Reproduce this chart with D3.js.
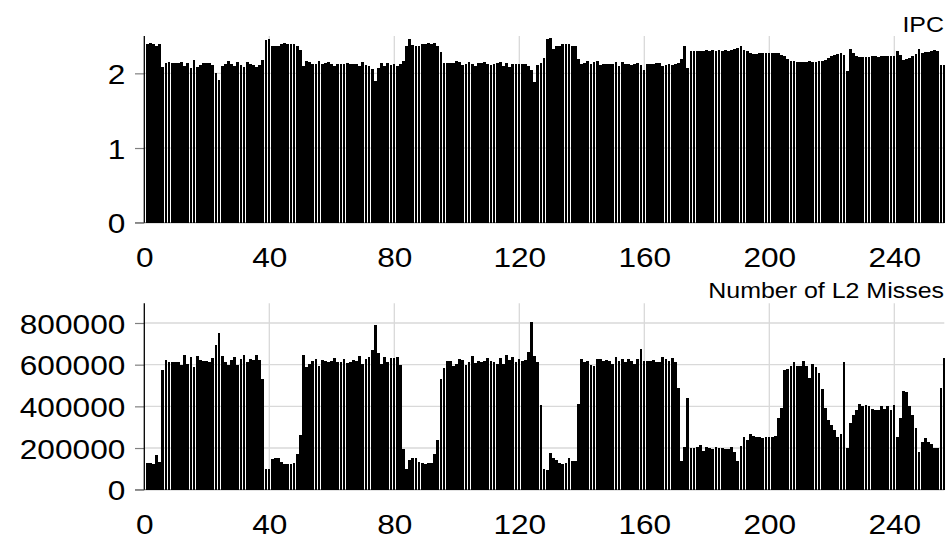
<!DOCTYPE html>
<html>
<head>
<meta charset="utf-8">
<script src="https://cdn.jsdelivr.net/npm/d3@7"></script>
<style>
  html, body { margin: 0; padding: 0; background: #fff; }
  svg { display: block; }
  text { font-family: "Liberation Sans", Arial, Helvetica, sans-serif; fill: #000; }
</style>
</head>
<body>
<svg id="chart" width="950" height="540"></svg>
<script>
// ---------- data ----------
const xTicks = [0, 40, 80, 120, 160, 200, 240];
const ipcTicks = [0, 1, 2];
const l2Ticks = [0, 200000, 400000, 600000, 800000];
const ipcTitle = "IPC";
const l2Title = "Number of L2 Misses";

const ipc = [
  2.39, 2.40, 2.39, 2.36, 2.39,
  2.09, 2.14, 2.15, 2.14, 2.14,
  2.14, 2.15, 2.10, 2.14, 2.07,
  2.18, 2.09, 2.11, 2.14, 2.14,
  2.14, 2.11, 2.00, 1.91, 2.10,
  2.125, 2.165, 2.125, 2.10, 2.15,
  2.11, 2.09, 2.15, 2.125, 2.11,
  2.09, 2.11, 2.18, 2.446, 2.455,
  2.37, 2.36, 2.36, 2.39, 2.40,
  2.39, 2.39, 2.39, 2.36, 2.31,
  2.10, 2.165, 2.15, 2.125, 2.125,
  2.165, 2.125, 2.14, 2.15, 2.125,
  2.10, 2.125, 2.125, 2.125, 2.14,
  2.125, 2.125, 2.125, 2.10, 2.15,
  2.11, 2.10, 2.06, 1.90, 2.07,
  2.14, 2.10, 2.14, 2.11, 2.125,
  2.10, 2.125, 2.165, 2.36, 2.455,
  2.38, 2.36, 2.36, 2.39, 2.39,
  2.40, 2.39, 2.40, 2.36, 2.29,
  2.14, 2.14, 2.14, 2.14, 2.165,
  2.15, 2.11, 2.125, 2.15, 2.125,
  2.10, 2.14, 2.14, 2.15, 2.125,
  2.11, 2.125, 2.14, 2.15, 2.10,
  2.14, 2.09, 2.125, 2.125, 2.125,
  2.125, 2.125, 2.10, 2.045, 1.885,
  2.11, 2.14, 2.205, 2.46, 2.47,
  2.325, 2.36, 2.37, 2.39, 2.39,
  2.39, 2.36, 2.36, 2.19, 2.125,
  2.14, 2.165, 2.125, 2.15, 2.165,
  2.11, 2.125, 2.125, 2.125, 2.125,
  2.15, 2.10, 2.15, 2.125, 2.125,
  2.11, 2.125, 2.14, 2.11, 2.045,
  2.125, 2.125, 2.125, 2.14, 2.14,
  2.10, 2.11, 2.125, 2.11, 2.125,
  2.14, 2.19, 2.365, 2.07, 2.30,
  2.30, 2.30, 2.30, 2.30, 2.31,
  2.30, 2.31, 2.30, 2.31, 2.30,
  2.31, 2.30, 2.31, 2.325, 2.34,
  2.365, 2.31, 2.30, 2.27, 2.26,
  2.26, 2.27, 2.27, 2.27, 2.27,
  2.27, 2.27, 2.27, 2.245, 2.23,
  2.19, 2.165, 2.165, 2.15, 2.15,
  2.15, 2.15, 2.165, 2.15, 2.15,
  2.165, 2.165, 2.18, 2.205, 2.23,
  2.245, 2.26, 2.27, 2.245, 2.03,
  2.325, 2.27, 2.23, 2.22, 2.22,
  2.22, 2.22, 2.23, 2.23, 2.22,
  2.23, 2.23, 2.23, 2.23, 2.23,
  2.30, 2.245, 2.18, 2.19, 2.205,
  2.23, 2.26, 2.325, 2.27, 2.285,
  2.285, 2.30, 2.31, 2.30, 2.11,
  2.11
];

const l2 = [
  127000, 127000, 122000, 165000, 132000,
  575000, 623000, 613000, 613000, 613000,
  613000, 599000, 647000, 604000, 638000,
  589000, 642000, 623000, 618000, 618000,
  613000, 633000, 695000, 753000, 642000,
  613000, 599000, 623000, 638000, 599000,
  628000, 647000, 613000, 628000, 623000,
  647000, 623000, 532000, 98000, 98000,
  146000, 151000, 151000, 132000, 122000,
  122000, 122000, 127000, 170000, 262000,
  647000, 589000, 604000, 618000, 628000,
  594000, 623000, 618000, 613000, 618000,
  633000, 613000, 613000, 628000, 609000,
  613000, 623000, 618000, 642000, 604000,
  628000, 638000, 671000, 792000, 657000,
  604000, 638000, 613000, 633000, 633000,
  638000, 599000, 194000, 98000, 141000,
  151000, 151000, 132000, 127000, 122000,
  127000, 127000, 170000, 238000, 532000,
  585000, 618000, 618000, 594000, 604000,
  628000, 623000, 599000, 613000, 642000,
  609000, 618000, 613000, 618000, 633000,
  618000, 613000, 604000, 633000, 604000,
  647000, 623000, 638000, 613000, 628000,
  618000, 623000, 662000, 806000, 642000,
  613000, 406000, 98000, 93000, 175000,
  151000, 141000, 127000, 122000, 127000,
  151000, 137000, 137000, 410000, 628000,
  613000, 618000, 599000, 594000, 625000,
  628000, 618000, 623000, 618000, 604000,
  638000, 618000, 628000, 613000, 628000,
  618000, 604000, 628000, 676000, 618000,
  618000, 618000, 623000, 613000, 613000,
  638000, 628000, 618000, 633000, 613000,
  488000, 137000, 204000, 440000, 199000,
  199000, 204000, 214000, 185000, 204000,
  199000, 194000, 204000, 199000, 199000,
  194000, 194000, 204000, 180000, 137000,
  209000, 252000, 238000, 267000, 257000,
  252000, 252000, 247000, 252000, 252000,
  252000, 257000, 344000, 392000, 575000,
  580000, 594000, 613000, 594000, 594000,
  618000, 594000, 536000, 604000, 589000,
  560000, 483000, 392000, 334000, 310000,
  286000, 252000, 267000, 613000, 199000,
  320000, 358000, 382000, 411000, 401000,
  406000, 401000, 387000, 382000, 382000,
  401000, 387000, 401000, 382000, 406000,
  252000, 344000, 474000, 469000, 401000,
  358000, 296000, 180000, 228000, 247000,
  228000, 218000, 199000, 199000, 488000,
  633000
];

// ---------- layout ----------
const svg = d3.select("#chart");
const xLeft = 144.3, xRight = 944.3;
const x = d3.scaleLinear().domain([0, ipc.length]).range([xLeft, xRight]);
const stretch = 1.11;

function panel(values, yDomainMax, yTop, yBottom, ticks, title, titleY) {
  const y = d3.scaleLinear().domain([0, yDomainMax]).range([yBottom, yTop]);
  const g = svg.append("g");

  // horizontal gridlines
  g.selectAll("line.hgrid").data(ticks.filter(t => t !== 0)).join("line")
    .attr("x1", xLeft).attr("x2", xRight)
    .attr("y1", d => y(d)).attr("y2", d => y(d))
    .attr("stroke", "#d9d9d9").attr("stroke-width", 1.3);
  // vertical gridlines
  g.selectAll("line.vgrid").data(xTicks.filter(t => t !== 0)).join("line")
    .attr("x1", d => x(d)).attr("x2", d => x(d))
    .attr("y1", yTop).attr("y2", yBottom)
    .attr("stroke", "#d9d9d9").attr("stroke-width", 1.3);
  // baseline
  g.append("line")
    .attr("x1", 135).attr("x2", xRight)
    .attr("y1", y(0)).attr("y2", y(0))
    .attr("stroke", "#8c8c8c").attr("stroke-width", 1.2);

  // bars
  g.append("g").selectAll("rect").data(values).join("rect")
    .attr("x", (d, i) => x(i) + 1.5)
    .attr("width", 2.8)
    .attr("y", d => y(d))
    .attr("height", d => y(0) - y(d))
    .attr("fill", "#000")
    .attr("shape-rendering", "crispEdges");

  // y axis
  const yAxis = g.append("g")
    .attr("transform", `translate(${xLeft},0)`)
    .call(d3.axisLeft(y).tickValues(ticks).tickSize(9.3).tickSizeOuter(0).tickFormat(d3.format("d")));
  yAxis.select(".domain").remove();
  yAxis.selectAll(".tick line").attr("stroke", "#808080").attr("stroke-width", 1.2);
  yAxis.selectAll(".tick text")
    .attr("x", 0).attr("dy", "0.36em")
    .attr("transform", `translate(-19,0) scale(${stretch},1)`)
    .style("font-size", "28.5px")
    .style("font-family", "'Liberation Sans', Arial, sans-serif")
    .attr("fill", "#000");
  g.append("line")
    .attr("x1", xLeft).attr("x2", xLeft)
    .attr("y1", yTop).attr("y2", yBottom)
    .attr("stroke", "#000").attr("stroke-width", 1.3);

  // x axis labels
  const xAxis = g.append("g")
    .attr("transform", `translate(0,${yBottom})`)
    .call(d3.axisBottom(x).tickValues(xTicks).tickSize(0).tickFormat(d3.format("d")));
  xAxis.select(".domain").remove();
  xAxis.selectAll(".tick text")
    .attr("y", 44).attr("dy", 0)
    .attr("transform", `scale(${stretch},1)`)
    .attr("x", 0)
    .style("font-size", "28.5px")
    .style("font-family", "'Liberation Sans', Arial, sans-serif")
    .attr("fill", "#000");

  // title
  g.append("text")
    .attr("text-anchor", "end")
    .attr("transform", `translate(944,${titleY}) scale(${stretch},1)`)
    .style("font-size", "22.5px")
    .text(title);
}

panel(ipc, 2.5, 36, 222.7, ipcTicks, ipcTitle, 32);
panel(l2, 895000, 303.2, 489.7, l2Ticks, l2Title, 297.5);
</script>
</body>
</html>
